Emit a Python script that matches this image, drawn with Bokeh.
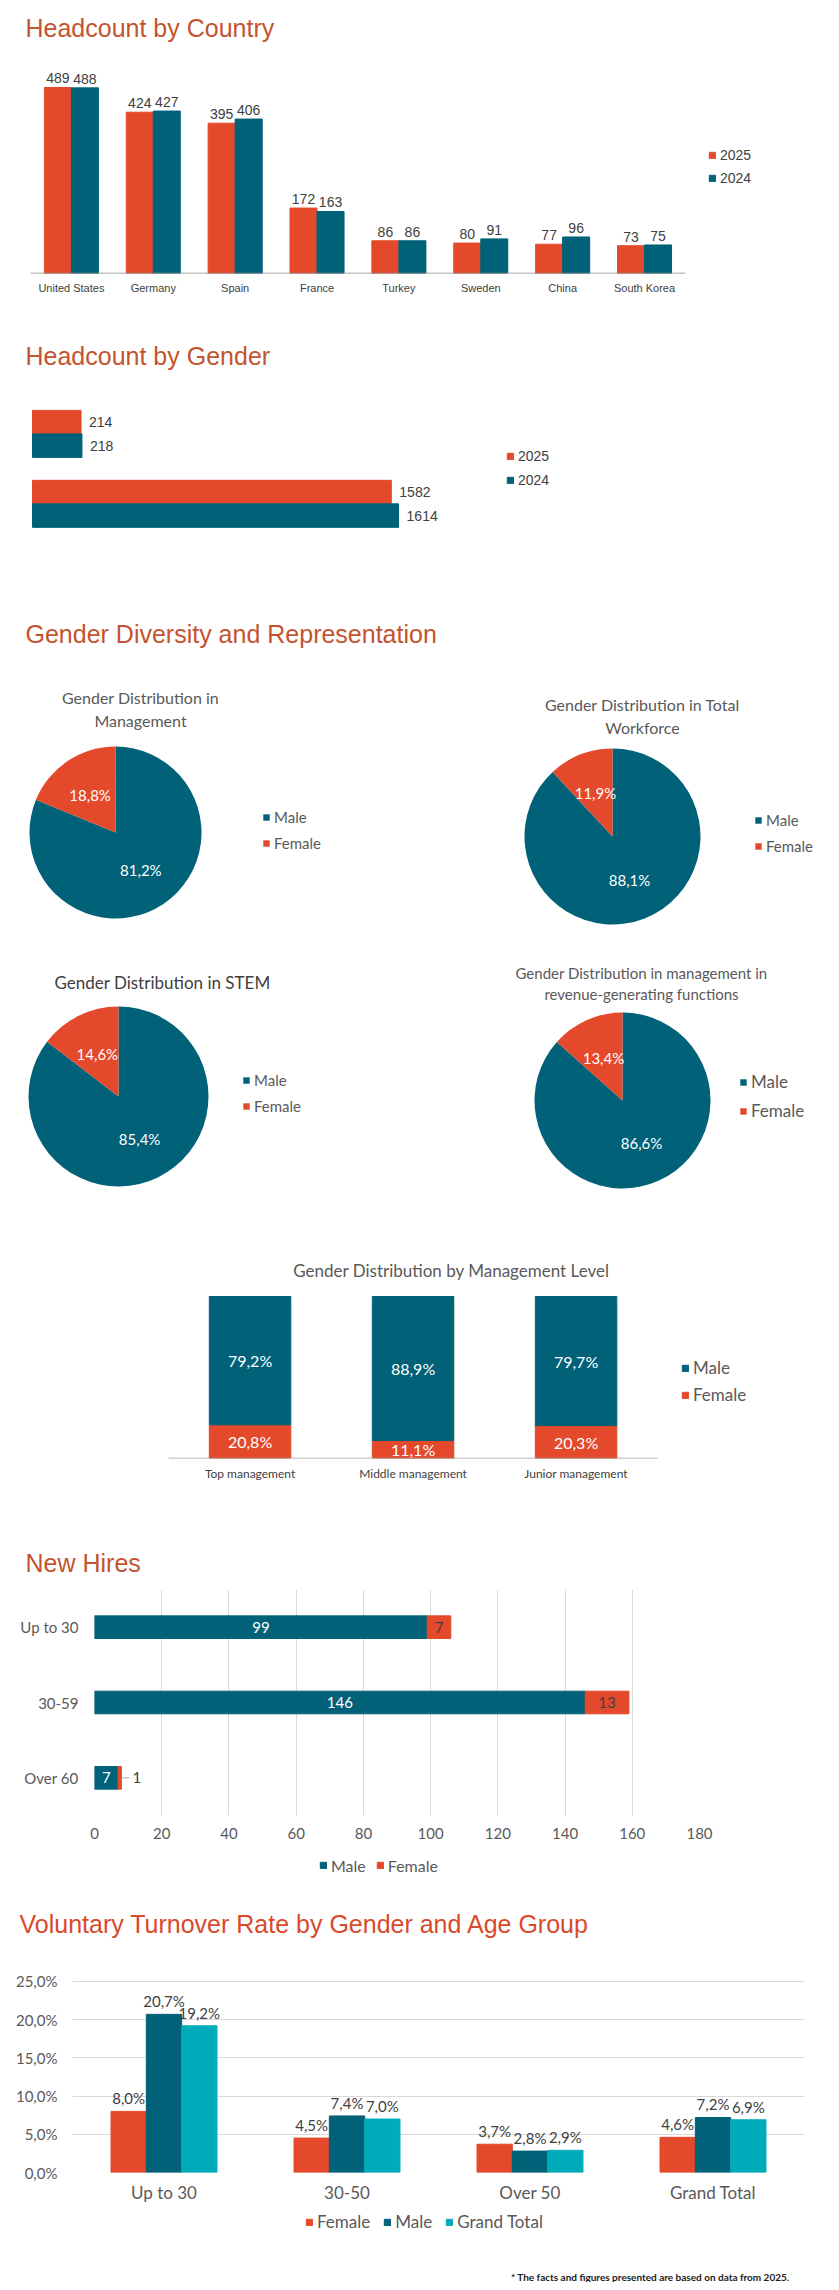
import numpy as np
from bokeh.plotting import figure
from bokeh.layouts import column, row
from bokeh.models import (ColumnDataSource, FactorRange, Range1d, Label, Legend, LegendItem,
                          FixedTicker, CustomJSTickFormatter)
from bokeh.transform import dodge
from bokeh.core.properties import value
from bokeh.embed import file_html
from bokeh.resources import INLINE

# ---- data ----
countries = ["United States", "Germany", "Spain", "France", "Turkey", "Sweden", "China", "South Korea"]
hc_2025 = [489, 424, 395, 172, 86, 80, 77, 73]
hc_2024 = [488, 427, 406, 163, 86, 91, 96, 75]

genders = ["Female", "Male"]
gender_2025 = [214, 1582]
gender_2024 = [218, 1614]

pie_labels = ["Male", "Female"]
pie_mgmt = [81.2, 18.8]
pie_total = [88.1, 11.9]
pie_stem = [85.4, 14.6]
pie_revenue = [86.6, 13.4]

levels = ["Top management", "Middle management", "Junior management"]
level_female = [20.8, 11.1, 20.3]
level_male = [79.2, 88.9, 79.7]

hire_ages = ["Up to 30", "30-59", "Over 60"]
hires_male = [99, 146, 7]
hires_female = [7, 13, 1]
hire_ticks = [0, 20, 40, 60, 80, 100, 120, 140, 160, 180]

turn_ages = ["Up to 30", "30-50", "Over 50", "Grand Total"]
turn_female = [8.0, 4.5, 3.7, 4.6]
turn_male = [20.7, 7.4, 2.8, 7.2]
turn_total = [19.2, 7.0, 2.9, 6.9]
turn_ticks = [0, 5, 10, 15, 20, 25]

# ---- look ----
ORANGE = "#E3492A"
TEAL = "#006178"
CYAN = "#00ACB9"
HEAD = "#C4532F"
DARK = "#404040"
MID = "#595959"
GRID = "#D9D9D9"
ARIAL = "Liberation Sans"
SOFT = "Lato"
W = 823


def pct(v):
    return f"{v:.1f}%".replace(".", ",")


def make(w, h, left=0, right=0, top=0, bottom=0, **kw):
    p = figure(width=w, height=h, output_backend="svg", toolbar_location=None,
               min_border_left=left, min_border_right=right,
               min_border_top=top, min_border_bottom=bottom, **kw)
    p.outline_line_color = None
    p.grid.visible = False
    return p


def blank(h, w=W):
    return make(w, h, x_range=Range1d(0, 1), y_range=Range1d(0, 1),
                x_axis_location=None, y_axis_location=None)


def note(p, text, x, y, size, color=DARK, font=SOFT, align="left", style="normal"):
    # x, y in pixels from the top-left corner of the figure (must lie in the frame)
    p.add_layout(Label(x=x - p.min_border_left, y=p.height - p.min_border_bottom - y,
                       x_units="screen", y_units="screen", text=text,
                       text_font=font, text_font_size=f"{size}px", text_color=color,
                       text_align=align, text_baseline="middle", text_font_style=style))


def legend(p, items, x, y, size, font=SOFT, color=MID, spacing=8, horizontal=False):
    leg = Legend(items=[LegendItem(label=value(t), renderers=[r], index=i) for t, r, i in items],
                 location=(x, y), orientation="horizontal" if horizontal else "vertical",
                 border_line_color=None, background_fill_alpha=0, padding=0, margin=0,
                 glyph_width=8, glyph_height=8, label_standoff=4, spacing=spacing,
                 label_height=size + 1, label_text_font=font,
                 label_text_font_size=f"{size}px", label_text_color=color)
    p.add_layout(leg)


def legend_strip(h, names, colors, x, y, size, spacing):
    # swatches for a legend that sits below a chart's axis; the keyed renderers stay hidden
    p = blank(h)
    items = []
    for n, c in zip(names, colors):
        key = p.vbar(x=[0], top=[0], width=0.1, color=c, visible=False)
        items.append((n, key, None))
    legend(p, items, x, y, size, spacing=spacing, horizontal=True)
    return p


def plain_axis(axis, font, size, color, standoff):
    axis.axis_line_color = None
    axis.major_tick_line_color = None
    axis.minor_tick_line_color = None
    axis.major_tick_out = 0
    axis.major_tick_in = 0
    axis.major_label_text_font = font
    axis.major_label_text_font_size = f"{size}px"
    axis.major_label_text_color = color
    axis.major_label_standoff = standoff


# ---- Headcount by Country ----
posA = list(range(len(countries)))
pA = make(W, 318, bottom=45, x_range=Range1d(-0.866, 9.186), y_range=Range1d(0, 717.7),
          y_axis_location=None)
srcA = ColumnDataSource(dict(pos=posA, v25=hc_2025, v24=hc_2024,
                             t25=[str(v) for v in hc_2025], t24=[str(v) for v in hc_2024]))
barA = {}
for yr, col, off in (("25", ORANGE, -0.165), ("24", TEAL, 0.165)):
    xs = dodge("pos", off)
    barA[yr] = pA.vbar(x=xs, top="v" + yr, width=0.33, color=col, source=srcA)
    pA.text(x=xs, y="v" + yr, text="t" + yr, source=srcA, text_align="center",
            text_baseline="bottom", y_offset=-4, text_font=value(ARIAL),
            text_font_size="14px", text_color=DARK)
pA.segment(x0=[posA[0] - 0.5], x1=[posA[-1] + 0.5], y0=[0], y1=[0],
           line_color="#8A8A8A", line_width=1.5)
pA.xaxis.ticker = FixedTicker(ticks=posA)
pA.xaxis.major_label_overrides = {i: c for i, c in zip(posA, countries)}
plain_axis(pA.xaxis[0], ARIAL, 11, DARK, 8)
legend(pA, [("2025", barA["25"], None), ("2024", barA["24"], None)], 708, 87, 14,
       font=ARIAL, color=DARK, spacing=7)
note(pA, "Headcount by Country", 25, 27, 25, HEAD, ARIAL)

# ---- Headcount by Gender ----
pB = make(W, 342, x_range=Range1d(-141.1, 3487.6), y_range=Range1d(-2.24, 2.65),
          x_axis_location=None, y_axis_location=None)
srcB = ColumnDataSource(dict(pos=[len(genders) - 1 - i for i in range(len(genders))],
                             v25=gender_2025, v24=gender_2024,
                             t25=[str(v) for v in gender_2025], t24=[str(v) for v in gender_2024]))
barB = {}
for yr, col, off in (("25", ORANGE, 0.168), ("24", TEAL, -0.168)):
    ys = dodge("pos", off)
    barB[yr] = pB.hbar(y=ys, left=0, right="v" + yr, height=0.336, color=col, source=srcB)
    pB.text(x="v" + yr, y=ys, text="t" + yr, source=srcB, x_offset=8, text_align="left",
            text_baseline="middle", text_font=value(ARIAL), text_font_size="14px",
            text_color=DARK)
legend(pB, [("2025", barB["25"], None), ("2024", barB["24"], None)], 506, 172, 14,
       font=ARIAL, color=DARK, spacing=8)
note(pB, "Headcount by Gender", 25, 37, 25, HEAD, ARIAL)
note(pB, "Gender Diversity and Representation", 25, 315, 25, HEAD, ARIAL)


# ---- pies ----
def pie(w, h, cx, cy, r, shares, titles, tx, ty, tsize, tcolor, gap, lx, ly, lsize):
    p = make(w, h, x_range=Range1d(-cx / r, (w - cx) / r), y_range=Range1d(-(h - cy) / r, cy / r),
             x_axis_location=None, y_axis_location=None)
    frac = np.array(shares) / sum(shares)
    stop = np.cumsum(frac)
    a0 = np.pi / 2 - 2 * np.pi * (stop - frac)
    a1 = np.pi / 2 - 2 * np.pi * stop
    mid = (a0 + a1) / 2
    src = ColumnDataSource(dict(name=pie_labels, a0=a0, a1=a1, color=[TEAL, ORANGE],
                                lx=0.53 * np.cos(mid), ly=0.53 * np.sin(mid),
                                txt=[pct(v) for v in shares]))
    wedge = p.wedge(x=0, y=0, radius=1, start_angle="a0", end_angle="a1", direction="clock",
                    fill_color="color", line_color=None, source=src)
    p.text(x="lx", y="ly", text="txt", source=src, text_align="center", text_baseline="middle",
           text_color="white", text_font=value(SOFT), text_font_size="15px")
    for i, t in enumerate(titles):
        note(p, t, tx, ty + i * gap, tsize, tcolor, SOFT, "center")
    legend(p, [(n, wedge, i) for i, n in enumerate(pie_labels)], lx, ly, lsize)
    return p


pC1 = pie(411, 280, 115, 172, 86, pie_mgmt, ["Gender Distribution in", "Management"],
          140, 37, 16, MID, 23, 262, 88, 15)
pC2 = pie(412, 280, 201, 176, 88, pie_total, ["Gender Distribution in Total", "Workforce"],
          231, 44, 16, MID, 23, 343, 85, 15)
pD1 = pie(411, 270, 118, 156, 90, pie_stem, ["Gender Distribution in STEM"],
          162, 42, 17, DARK, 0, 242, 95, 15)
pD2 = pie(412, 270, 211, 160, 88, pie_revenue,
          ["Gender Distribution in management in", "revenue-generating functions"],
          230, 32, 15, MID, 21, 328, 89, 17)

# ---- Gender Distribution by Management Level ----
posE = list(range(len(levels)))
pE = make(W, 290, bottom=42, x_range=Range1d(-1.531, 3.518), y_range=Range1d(0, 153.1),
          y_axis_location=None)
srcE = ColumnDataSource(dict(pos=posE, Female=level_female, Male=level_male,
                             fmid=[f / 2 for f in level_female],
                             mmid=[f + m / 2 for f, m in zip(level_female, level_male)],
                             ftxt=[pct(v) for v in level_female],
                             mtxt=[pct(v) for v in level_male]))
stE = pE.vbar_stack(["Female", "Male"], x="pos", width=0.5, color=[ORANGE, TEAL], source=srcE)
for ycol, tcol in (("fmid", "ftxt"), ("mmid", "mtxt")):
    pE.text(x="pos", y=ycol, text=tcol, source=srcE, text_align="center",
            text_baseline="middle", text_color="white", text_font=value(SOFT),
            text_font_size="16px")
pE.segment(x0=[posE[0] - 0.5], x1=[posE[-1] + 0.5], y0=[0], y1=[0],
           line_color="#A0A0A0", line_width=1.5)
pE.xaxis.ticker = FixedTicker(ticks=posE)
pE.xaxis.major_label_overrides = {i: c for i, c in zip(posE, levels)}
plain_axis(pE.xaxis[0], SOFT, 12, DARK, 7)
legend(pE, [("Male", stE[1], None), ("Female", stE[0], None)], 681, 53, 17, spacing=6)
note(pE, "Gender Distribution by Management Level", 451, 60, 17, MID, SOFT, "center")

# ---- New Hires ----
hF = blank(85)
note(hF, "New Hires", 25, 62, 25, HEAD, ARIAL)
pF = make(W, 265, left=94, right=124, top=4, bottom=35,
          x_range=Range1d(0, 180), y_range=FactorRange(*hire_ages[::-1]))
pF.y_range.range_padding = 0
totF = [m + f for m, f in zip(hires_male, hires_female)]
srcF = ColumnDataSource(dict(age=hire_ages, male=hires_male, female=hires_female,
                             mmid=[m / 2 for m in hires_male], mtxt=[str(v) for v in hires_male]))
stF = pF.hbar_stack(["male", "female"], y="age", height=0.3, color=[TEAL, ORANGE], source=srcF)
pF.text(x="mmid", y="age", text="mtxt", source=srcF, text_align="center", text_baseline="middle",
        text_color="white", text_font=value(SOFT), text_font_size="15px")
inside = [i for i, f in enumerate(hires_female) if f >= 3]
outside = [i for i, f in enumerate(hires_female) if f < 3]
pF.text(x=[hires_male[i] + hires_female[i] / 2 for i in inside], y=[hire_ages[i] for i in inside],
        text=[str(hires_female[i]) for i in inside], text_align="center", text_baseline="middle",
        text_color=DARK, text_font=value(SOFT), text_font_size="15px")
pF.segment(x0=[totF[i] for i in outside], y0=[hire_ages[i] for i in outside],
           x1=[totF[i] + 2.4 for i in outside], y1=[hire_ages[i] for i in outside],
           line_color="#A6A6A6", line_width=1)
pF.text(x=[totF[i] + 2.4 for i in outside], y=[hire_ages[i] for i in outside],
        text=[str(hires_female[i]) for i in outside], x_offset=3, text_align="left",
        text_baseline="middle", text_color=DARK, text_font=value(SOFT), text_font_size="15px")
pF.xaxis.ticker = FixedTicker(ticks=hire_ticks)
pF.xgrid.visible = True
pF.xgrid.grid_line_color = GRID
plain_axis(pF.xaxis[0], SOFT, 15, MID, 12)
plain_axis(pF.yaxis[0], SOFT, 15, MID, 16)
lF = legend_strip(40, ["Male", "Female"], [TEAL, ORANGE], 319, 15.5, 16, 10)

# ---- Voluntary Turnover ----
hG = blank(75)
note(hG, "Voluntary Turnover Rate by Gender and Age Group", 19, 33, 25, "#D84A2B", ARIAL)
pG = make(W, 240, left=72, right=19, top=10, bottom=33,
          x_range=FactorRange(*turn_ages), y_range=Range1d(0, 25.785))
pG.x_range.range_padding = 0
srcG = ColumnDataSource(dict(age=turn_ages, female=turn_female, male=turn_male, total=turn_total,
                             tf=[pct(v) for v in turn_female], tm=[pct(v) for v in turn_male],
                             tt=[pct(v) for v in turn_total]))
turn_series = [("female", "tf", ORANGE, -0.193), ("male", "tm", TEAL, 0.0),
               ("total", "tt", CYAN, 0.193)]
for col, txt, color, off in turn_series:
    xs = dodge("age", off, range=pG.x_range)
    pG.vbar(x=xs, top=col, width=0.193, color=color, source=srcG)
    pG.text(x=xs, y=col, text=txt, source=srcG, text_align="center", text_baseline="bottom",
            y_offset=-4, text_color=DARK, text_font=value(SOFT), text_font_size="15px")
pG.yaxis.ticker = FixedTicker(ticks=turn_ticks)
pG.yaxis.formatter = CustomJSTickFormatter(code="return tick.toFixed(1).replace('.', ',') + '%'")
pG.ygrid.visible = True
pG.ygrid.grid_line_color = GRID
plain_axis(pG.xaxis[0], SOFT, 17, MID, 9)
plain_axis(pG.yaxis[0], SOFT, 15, MID, 15)
lG = legend_strip(40, ["Female", "Male", "Grand Total"], [ORANGE, TEAL, CYAN], 305, 13, 17, 13)

fG = blank(37)
note(fG, "* The facts and figures presented are based on data from 2025.", 789, 31, 10,
     "#1A1A1A", SOFT, "right", "bold")

page = column(row(pA), row(pB), row(pC1, pC2), row(pD1, pD2), row(pE),
              row(hF), row(pF), row(lF), row(hG), row(pG), row(lG), row(fG))
open("out.html", "w").write(file_html(page, INLINE, title="Headcount and diversity"))
